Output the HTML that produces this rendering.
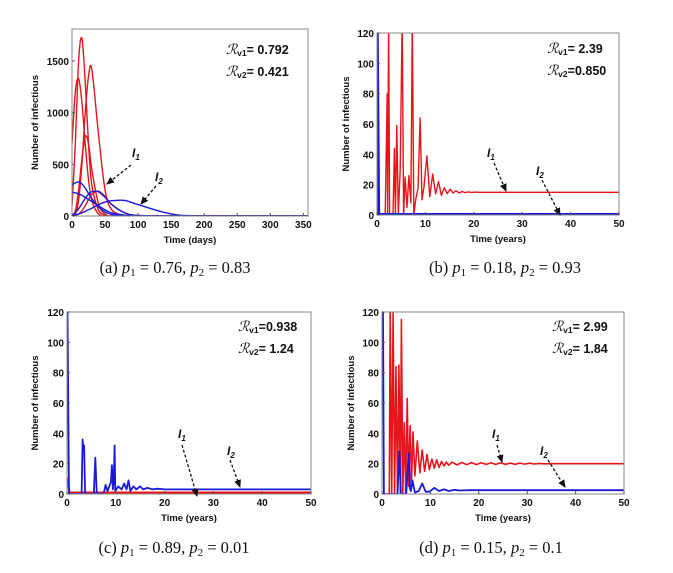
<!DOCTYPE html>
<html><head><meta charset="utf-8"><style>
html,body{margin:0;padding:0;background:#fff;}
svg{display:block;}
.tk{font:bold 10px "Liberation Sans",sans-serif;fill:#111;}
.ax{font:bold 9.5px "Liberation Sans",sans-serif;fill:#111;}
.rv{font:bold 12.5px "Liberation Sans",sans-serif;fill:#111;}
.cap{font:16.5px "Liberation Serif",serif;fill:#111;}
.lab{font:bold italic 12px "Liberation Sans",sans-serif;fill:#111;}
</style></head><body>
<svg id="fig" width="673" height="573" viewBox="0 0 673 573" xmlns="http://www.w3.org/2000/svg">
<defs><marker id="ah" markerWidth="8" markerHeight="8" refX="7" refY="4" orient="auto" markerUnits="userSpaceOnUse"><path d="M0,0.5 L8,4 L0,7.5 Z" fill="#111"/></marker></defs>
</svg>
<script>
// ---- Panel (a) data ----
const timeA = [0,5,10,15,20,25,30,40,50,60,80,100,150,200,360];
const redA1 = [100,700,1500,1720,1300,700,300,60,10,0,0,0,0,0,0];
const redA2 = [700,1200,1330,1100,700,350,150,20,0,0,0,0,0,0,0];
const redA3 = [0,20,150,500,1000,1350,1420,800,250,60,5,0,0,0,0];
const redA4 = [0,50,250,550,770,700,450,120,20,0,0,0,0,0,0];
const redA5 = [0,5,20,50,100,160,210,240,190,110,30,5,0,0,0];
const blueA1 = [300,320,330,310,270,220,170,90,40,15,3,0,0,0,0];
const blueA2 = [230,225,215,200,180,160,140,100,60,30,8,2,0,0,0];
const blueA3 = [10,30,70,120,170,210,235,235,180,110,30,5,0,0,0];
const blueA4 = [5,10,20,30,45,60,75,110,135,148,150,110,20,2,0];
const ticksA_x = [0,50,100,150,200,250,300,350];
const ticksA_y = [0,500,1000,1500];
// ---- Panel (b) data ----
const timeB = [0,0.3,1.7,2.1,2.2,2.4,2.6,3.3,3.6,3.8,4.1,4.4,4.8,5.2,5.5,5.8,6.2,6.6,7.0,7.3,7.6,8.0,8.5,8.9,9.3,9.7,10.3,10.9,11.5,12.1,12.7,13.3,13.9,14.5,15.1,15.7,16.3,17,17.6,18.2,18.9,19.5,20.2,21,22,50];
const redB = [10,0,0,80,0,130,0,0,44,0,59,0,30,130,0,25,5,26,8,130,0,10,18,64,10,18,39,12,27,14,22,13,18,14,17,14.5,16,14.5,15.5,14.8,15.2,14.9,15.1,15,15,15];
const timeB2 = [0,0.1,0.4,1,50];
const blueB = [120,120,0.5,0.5,0.5];
// ---- Panel (c) data ----
const timeC = [0,0.1,0.4,3,3.2,3.35,3.5,3.7,5.5,5.8,6.1,7.5,7.9,8.3,9.0,9.2,9.4,9.6,9.75,9.9,10.5,11.2,11.7,12.2,12.6,13,13.6,14.2,15,15.6,16.5,17.5,18.5,20,22,50];
const blueC = [120,120,0,0,36,30,32,0,0,24,0,0,6,2,8,19,3,10,32,2,5,3,7,3,9,2,5,3,5,3,4,3,3.5,3,3,3];
const timeC2 = [0,0.1,0.5,1,50];
const redC = [10,10,1,1,1];
// ---- Panel (d) data ----
const timeD = [0,1.5,1.7,2.0,2.3,2.6,2.9,3.2,3.5,3.8,4.0,4.3,4.6,4.9,5.2,5.5,5.8,6.1,6.4,6.8,7.3,7.8,8.3,8.8,9.3,9.8,10.3,10.8,11.3,11.8,12.3,12.8,13.3,13.8,14.5,15.5,16.5,17.5,18.5,19.5,20.5,21.5,22.5,23.5,24.5,25.5,26.5,27.5,28.5,29.5,30.5,31.5,32.5,33.5,35,50];
const redD = [0,0,120,0,120,0,84,0,85,0,115,0,47,0,63,5,45,8,41,12,35,14,29,15,26,16,23,17,22.5,17.5,21.5,18.5,21,19,21,19.2,20.8,19.3,20.7,19.4,20.6,19.5,20.5,19.5,20.5,19.6,20.4,19.6,20.4,19.7,20.3,19.8,20.2,19.9,20,20];
const timeD2 = [0,0.2,0.4,3.2,3.6,3.9,5.0,5.5,5.8,6.0,6.3,6.8,7.6,8.3,9.0,9.8,10.8,11.8,12.8,13.8,15,16,18,20,50];
const blueD = [120,120,0,0,28,0,0,27,3,2,9,1,2,7,1.5,1.5,4,2,3,2,2.8,2.3,2.6,2.5,2.5];
const ticksXY_x = [0,10,20,30,40,50];
const ticksXY_y = [0,20,40,60,80,100,120];

const NS = "http://www.w3.org/2000/svg";
const fig = document.getElementById('fig');
function mk(tag, attrs, parent){ const e=document.createElementNS(NS,tag); for(const k in attrs) e.setAttribute(k,attrs[k]); (parent||fig).appendChild(e); return e; }

function pathD(pts, smooth){
  if(!smooth){ return pts.map((p,i)=>(i?'L':'M')+p[0].toFixed(1)+','+p[1].toFixed(1)).join(''); }
  let d = 'M'+pts[0][0].toFixed(1)+','+pts[0][1].toFixed(1);
  for(let i=0;i<pts.length-1;i++){
    const p0=pts[Math.max(0,i-1)], p1=pts[i], p2=pts[i+1], p3=pts[Math.min(pts.length-1,i+2)];
    const c1=[p1[0]+(p2[0]-p0[0])/6, p1[1]+(p2[1]-p0[1])/6];
    const c2=[p2[0]-(p3[0]-p1[0])/6, p2[1]-(p3[1]-p1[1])/6];
    d += 'C'+c1[0].toFixed(1)+','+c1[1].toFixed(1)+' '+c2[0].toFixed(1)+','+c2[1].toFixed(1)+' '+p2[0].toFixed(1)+','+p2[1].toFixed(1);
  }
  return d;
}

function panel(p){
  const g = mk('g',{});
  
  
  const sx = v => p.x0 + (v - 0) / p.xmax * (p.x1 - p.x0);
  const sy = v => p.y1 - v / p.ymax * (p.y1 - p.y0);
  const clip = 'clip-' + p.name;
  const cp = mk('clipPath',{id:clip}, g);
  mk('rect',{x:p.x0,y:p.y0,width:p.x1-p.x0,height:p.y1-p.y0}, cp);
  const sg = mk('g',{'clip-path':'url(#'+clip+')'}, g);
  p.series.forEach(s=>{
    const pts = s.t.map((t,i)=>[sx(t), sy(s.v[i])]);
    const path = mk('path',{d:pathD(pts, p.smooth),fill:'none',stroke:s.c,'stroke-width':s.w||1.4,'stroke-linejoin':'round'}, sg);
    
    
  });
  const fr = mk('rect',{x:p.x0,y:p.y0,width:p.x1-p.x0,height:p.y1-p.y0,fill:'none',stroke:'#888','stroke-width':1}, g);
  
  
  p.tx.forEach(v=>{
    mk('line',{x1:sx(v),x2:sx(v),y1:p.y1,y2:p.y1-3,stroke:'#555'}, g);
    const t = mk('text',{x:sx(v),y:p.y1+12,'text-anchor':'middle',class:'tk'}, g);
    t.textContent = v;
    
    
  });
  p.ty.forEach(v=>{
    mk('line',{x1:p.x0,x2:p.x0+3,y1:sy(v),y2:sy(v),stroke:'#555'}, g);
    const t = mk('text',{x:p.x0-3,y:sy(v)+4,'text-anchor':'end',class:'tk'}, g);
    t.textContent = v;
    
    
  });
  const xt = mk('text',{x:(p.x0+p.x1)/2,y:p.y1+27,'text-anchor':'middle',class:'ax'}, g);
  xt.textContent = p.xlabel;
  
  
  const yt = mk('text',{x:0,y:0,'text-anchor':'middle',class:'ax',transform:'translate('+p.ylx+','+((p.y0+p.y1)/2)+') rotate(-90)'}, g);
  yt.textContent = 'Number of infectious';
  
  
  p.rv.forEach((r,i)=>{
    const t = mk('text',{x:p.rvx,y:p.rvy + i*22,class:'rv'}, g);
    t.innerHTML = '<tspan font-family="Liberation Serif" font-style="italic" font-weight="normal" font-size="14">ℛ</tspan><tspan font-size="8.5" dy="2">v'+(i+1)+'</tspan><tspan dy="-2">=' + r + '</tspan>';
    
    
  });
  p.arrows.forEach((a,i)=>{
    const l = mk('line',{x1:a[2],y1:a[3],x2:a[4],y2:a[5],stroke:'#111','stroke-width':1.3,'stroke-dasharray':'3,2','marker-end':'url(#ah)'}, g);
    
    
    const t = mk('text',{x:a[0],y:a[1],class:'lab'}, g);
    t.innerHTML = 'I<tspan font-size="8" dy="3">' + (i+1) + '</tspan>';
    
    
  });
  const c = mk('text',{x:p.capx,y:p.capy,'text-anchor':'middle',class:'cap'}, g);
  c.innerHTML = p.cap;
  
  
}
function capText(l,a,b){ return '('+l+') <tspan font-style="italic">p</tspan><tspan font-size="11" dy="3">1</tspan><tspan dy="-3"> = '+a+', </tspan><tspan font-style="italic">p</tspan><tspan font-size="11" dy="3">2</tspan><tspan dy="-3"> = '+b+'</tspan>'; }

panel({name:'panel-a',smooth:true,x0:72,x1:308,y0:29,y1:216,xmax:357,ymax:1810,tx:ticksA_x,ty:ticksA_y,xlabel:'Time (days)',ylx:38,
  series:[
    {t:timeA,v:redA1,c:'#e8141c',n:'i1-curve-1'},{t:timeA,v:redA2,c:'#e8141c',n:'i1-curve-2'},{t:timeA,v:redA3,c:'#e8141c',n:'i1-curve-3'},
    {t:timeA,v:redA4,c:'#e8141c',n:'i1-curve-4'},{t:timeA,v:redA5,c:'#e8141c',n:'i1-curve-5'},
    {t:timeA,v:blueA1,c:'#1a1ad6',n:'i2-curve-1'},{t:timeA,v:blueA2,c:'#1a1ad6',n:'i2-curve-2'},{t:timeA,v:blueA3,c:'#1a1ad6',n:'i2-curve-3'},{t:timeA,v:blueA4,c:'#1a1ad6',n:'i2-curve-4'}],
  rv:[' 0.792',' 0.421'],rvx:226,rvy:54,
  arrows:[[132,157,131,165,107,184],[155,181,156,186,141,204]],
  cap:capText('a','0.76','0.83'),capx:175,capy:273});
panel({name:'panel-b',x0:377,x1:619,y0:33,y1:215,xmax:50,ymax:120,tx:ticksXY_x,ty:ticksXY_y,xlabel:'Time (years)',ylx:349,
  series:[{t:timeB,v:redB,c:'#e8141c',n:'i1-curve'},{t:timeB2,v:blueB,c:'#1a1ad6',w:2.5,n:'i2-curve'}],
  rv:[' 2.39','0.850'],rvx:547,rvy:53,
  arrows:[[487,157,494,163,506,191],[536,175,542,180,560,215]],
  cap:capText('b','0.18','0.93'),capx:505,capy:273});
panel({name:'panel-c',x0:67,x1:311,y0:312,y1:494,xmax:50,ymax:120,tx:ticksXY_x,ty:ticksXY_y,xlabel:'Time (years)',ylx:38,
  series:[{t:timeC2,v:redC,c:'#e8141c',w:2,n:'i1-curve'},{t:timeC,v:blueC,c:'#1a1ad6',w:1.8,n:'i2-curve'}],
  rv:['0.938',' 1.24'],rvx:238,rvy:331,
  arrows:[[178,438,182,445,197,496],[227,455,230,460,240,487]],
  cap:capText('c','0.89','0.01'),capx:174,capy:553});
panel({name:'panel-d',x0:382,x1:624,y0:312,y1:494,xmax:50,ymax:120,tx:ticksXY_x,ty:ticksXY_y,xlabel:'Time (years)',ylx:354,
  series:[{t:timeD,v:redD,c:'#e8141c',w:1.6,n:'i1-curve'},{t:timeD2,v:blueD,c:'#1a1ad6',w:1.8,n:'i2-curve'}],
  rv:[' 2.99',' 1.84'],rvx:552,rvy:331,
  arrows:[[492,438,497,445,502,462],[540,455,548,460,565,487]],
  cap:capText('d','0.15','0.1'),capx:491,capy:553});
</script>
</body></html>
